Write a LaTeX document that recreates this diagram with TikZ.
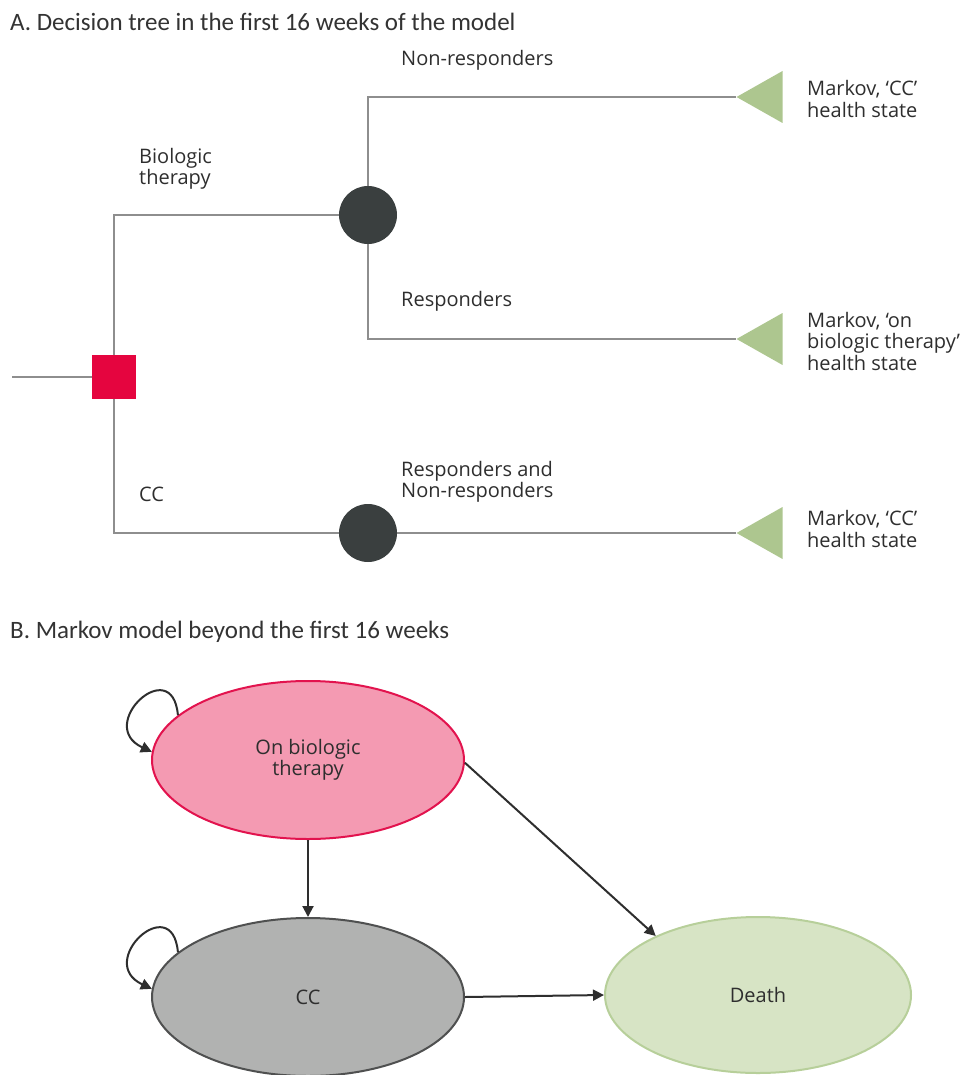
\documentclass[tikz,border=0pt]{standalone}
\usepackage{fontspec}
\setmainfont{Open Sans}
\newfontfamily\titlefont{Carlito}
\usetikzlibrary{shapes.geometric,arrows.meta}
\definecolor{treeline}{HTML}{8E8E8E}
\definecolor{decred}{HTML}{E5053F}
\definecolor{chancegray}{HTML}{3A3F3F}
\definecolor{termgreen}{HTML}{ADC68F}
\definecolor{txt}{HTML}{2E2E2E}
\definecolor{pinkfill}{HTML}{F49AB2}
\definecolor{pinkline}{HTML}{E2134E}
\definecolor{ccfill}{HTML}{B1B2B1}
\definecolor{ccline}{HTML}{4F5050}
\definecolor{deathfill}{HTML}{D7E4C5}
\definecolor{deathline}{HTML}{B7CF9A}
\definecolor{arrowc}{HTML}{2E2E2E}
\tikzset{
  tline/.style={draw=treeline, line width=2pt},
  decbox/.style={rectangle, fill=decred, minimum size=44pt, inner sep=0pt},
  chance/.style={circle, fill=chancegray, minimum size=58pt, inner sep=0pt},
  termtri/.style={isosceles triangle, shape border rotate=180, fill=termgreen,
     minimum height=46pt, minimum width=52pt, isosceles triangle stretches, inner sep=0pt, anchor=apex},
  lbl/.style={text=txt, font=\fontsize{20}{21.5}\selectfont, align=left, anchor=west, inner sep=0pt},
  ttl/.style={text=black!80, font=\titlefont\fontsize{25}{29}\selectfont, anchor=west, inner sep=0pt},
  state/.style={ellipse, line width=2pt, minimum width=312pt, minimum height=158pt, inner sep=0pt,
     text=txt, font=\fontsize{20}{21.5}\selectfont, align=center},
  arr/.style={draw=arrowc, line width=2pt, -{Triangle[length=11pt,width=11pt]}},
}
\begin{document}
\begin{tikzpicture}[x=1pt,y=-1pt]
\useasboundingbox (0,0) rectangle (971,1075);
% ---------- Part A ----------
\node[ttl] (titleA) at (10,22) {A. Decision tree in the first 16 weeks of the model};

\coordinate (root) at (12,377);
\node[decbox] (dec) at (114,377) {};
\node[chance] (c1) at (368,215) {};
\node[chance] (c2) at (368,533) {};
\node[termtri] (t1) at (736,97) {};
\node[termtri] (t2) at (736,339) {};
\node[termtri] (t3) at (736,533) {};

\draw[tline] (root) -- (dec);
\draw[tline] (dec.north) |- (c1.west);
\draw[tline] (dec.south) |- (c2.west);
\draw[tline] (c1.north) |- (t1.apex);
\draw[tline] (c1.south) |- (t2.apex);
\draw[tline] (c2.east) -- (t3.apex);

\node[lbl] (lNR) at (401,60) {Non-responders};
\node[lbl] (lBio) at (139,169) {Biologic\\therapy};
\node[lbl] (lR) at (401,301) {Responders};
\node[lbl] (lRN) at (401,482) {Responders and\\Non-responders};
\node[lbl] (lCC) at (139,494) {CC};

\node[lbl] (m1) at (807,99) {Markov, ‘CC’\\health state};
\node[lbl] (m2) at (807,341) {Markov, ‘on\\biologic therapy’\\health state};
\node[lbl] (m3) at (807,529) {Markov, ‘CC’\\health state};

% ---------- Part B ----------
\node[ttl] (titleB) at (10,632) {B. Markov model beyond the first 16 weeks};

\node[state, fill=pinkfill, draw=pinkline] (e1) at (308,760) {On biologic\\therapy};
\node[state, fill=ccfill, draw=ccline] (e2) at (308,997) {CC};
\node[state, fill=deathfill, draw=deathline, minimum width=306pt, minimum height=156pt] (e3) at (758,995) {Death};

\draw[arr] (e1.south) -- (e2.north);
\draw[arr] (e1.-1) -- (e3.150);
\draw[arr] (e2.east) -- (e3.west);
\draw[arr] (e1.161) to[out=95,in=155,looseness=3.6] (e1.177);
\draw[arr] (e2.161) to[out=95,in=155,looseness=3.6] (e2.177);
\end{tikzpicture}
\end{document}
